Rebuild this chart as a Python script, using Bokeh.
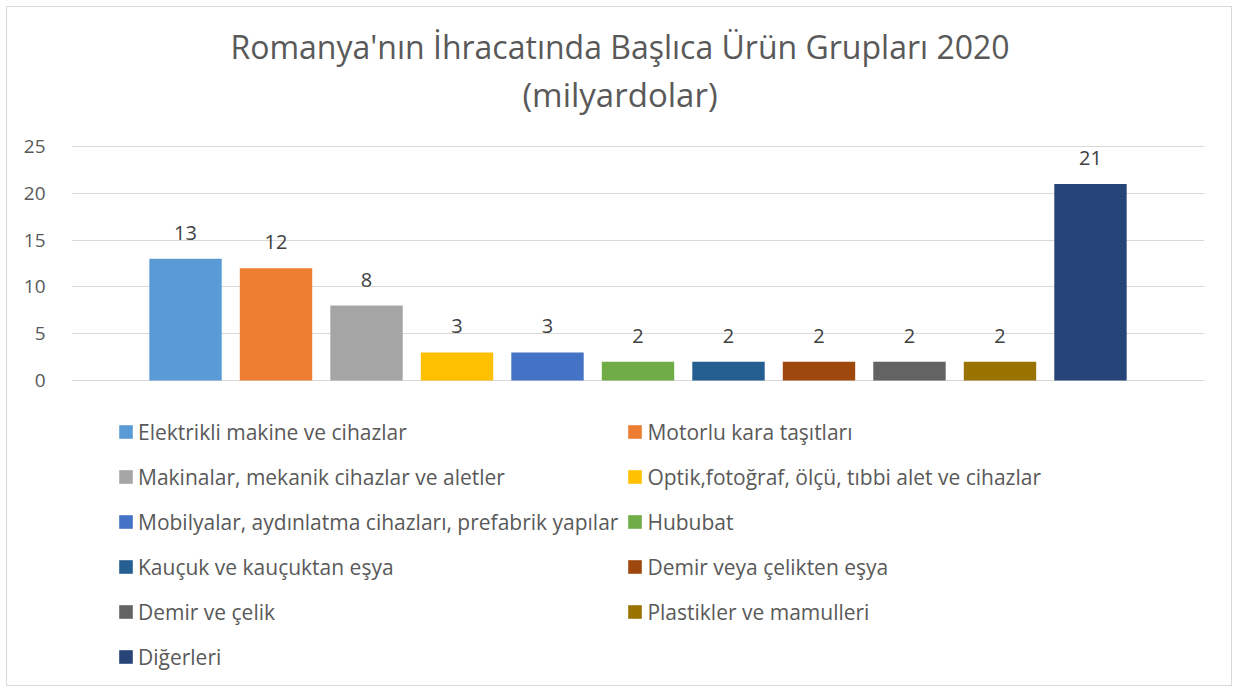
from bokeh.plotting import figure
from bokeh.models import ColumnDataSource, Legend, LegendItem, Range1d, LabelSet, Label
from bokeh.core.properties import value
from bokeh.embed import file_html
from bokeh.resources import INLINE

categories = [
    "Elektrikli makine ve cihazlar",
    "Motorlu kara taşıtları",
    "Makinalar, mekanik cihazlar ve aletler",
    "Optik,fotoğraf, ölçü, tıbbi alet ve cihazlar",
    "Mobilyalar, aydınlatma cihazları, prefabrik yapılar",
    "Hububat",
    "Kauçuk ve kauçuktan eşya",
    "Demir veya çelikten eşya",
    "Demir ve çelik",
    "Plastikler ve mamulleri",
    "Diğerleri",
]
values = [13, 12, 8, 3, 3, 2, 2, 2, 2, 2, 21]
colors = ["#5B9BD5", "#ED7D31", "#A5A5A5", "#FFC000", "#4472C4", "#70AD47",
          "#255E91", "#9E480E", "#636363", "#997300", "#264478"]
y_ticks = [0, 5, 10, 15, 20, 25]
title_lines = ["Romanya'nın İhracatında Başlıca Ürün Grupları 2020", "(milyardolar)"]

FONT = "Open Sans"
n = len(categories)
xs = list(range(n))

# The frame spans the whole chart box: 0..25 occupies a 234px band,
# the area above hosts the title and the area below hosts the legend.
PX_PER_UNIT = 234 / 25
TOP_PX = 139
BOTTOM_PX = 303
YMAX = max(y_ticks)
p = figure(width=1226, height=680, output_backend="svg", toolbar_location=None,
           title=None,
           x_range=Range1d(-1.26, n - 1 + 1.26),
           y_range=Range1d(-BOTTOM_PX / PX_PER_UNIT, YMAX + TOP_PX / PX_PER_UNIT),
           min_border_left=64, min_border_right=29, min_border_top=0,
           min_border_bottom=4)
p.styles = {"border": "1px solid #d9d9d9", "margin": "6px"}

x_mid = (n - 1) / 2
for txt, off, size in [(title_lines[0], 100, "32px"), (title_lines[1], 52, "33px")]:
    p.add_layout(Label(x=x_mid, y=YMAX, x_offset=-18, y_offset=off, text=txt,
                       text_align="center", text_baseline="middle",
                       text_font=FONT, text_font_size=size, text_color="#595959"))

p.outline_line_color = None
p.xaxis.visible = False
p.xgrid.grid_line_color = None
p.ygrid.grid_line_color = "#d9d9d9"
p.ygrid.grid_line_width = 1
p.yaxis.ticker = y_ticks
p.yaxis.axis_line_color = None
p.yaxis.major_tick_line_color = None
p.yaxis.minor_tick_line_color = None
p.yaxis.major_label_text_font = FONT
p.yaxis.major_label_text_font_size = "19px"
p.yaxis.major_label_text_color = "#595959"
p.yaxis.major_label_standoff = 20

items = []
for i in range(n):
    src = ColumnDataSource(dict(x=[xs[i]], top=[values[i]]))
    r = p.vbar(x="x", top="top", bottom=0, width=0.8, source=src,
               fill_color=colors[i], line_color=None)
    items.append(LegendItem(label=categories[i], renderers=[r]))

lsrc = ColumnDataSource(dict(x=xs, y=values, t=[str(v) for v in values]))
labels = LabelSet(x="x", y="y", text="t", source=lsrc, text_align="center",
                  text_baseline="bottom", y_offset=19, text_font=value(FONT),
                  text_font_size=value("20px"), text_color=value("#404040"))
p.add_layout(labels)

legend = Legend(items=items, ncols=2, orientation="horizontal", location=(46, 8),
                label_text_font=FONT, label_text_font_size="21px",
                label_text_color="#595959", glyph_width=17, glyph_height=17,
                label_standoff=4, spacing=8, label_height=37,
                border_line_color=None, background_fill_alpha=0,
                padding=0, margin=0)
p.add_layout(legend, "center")

open("out.html", "w").write(file_html(p, INLINE))
